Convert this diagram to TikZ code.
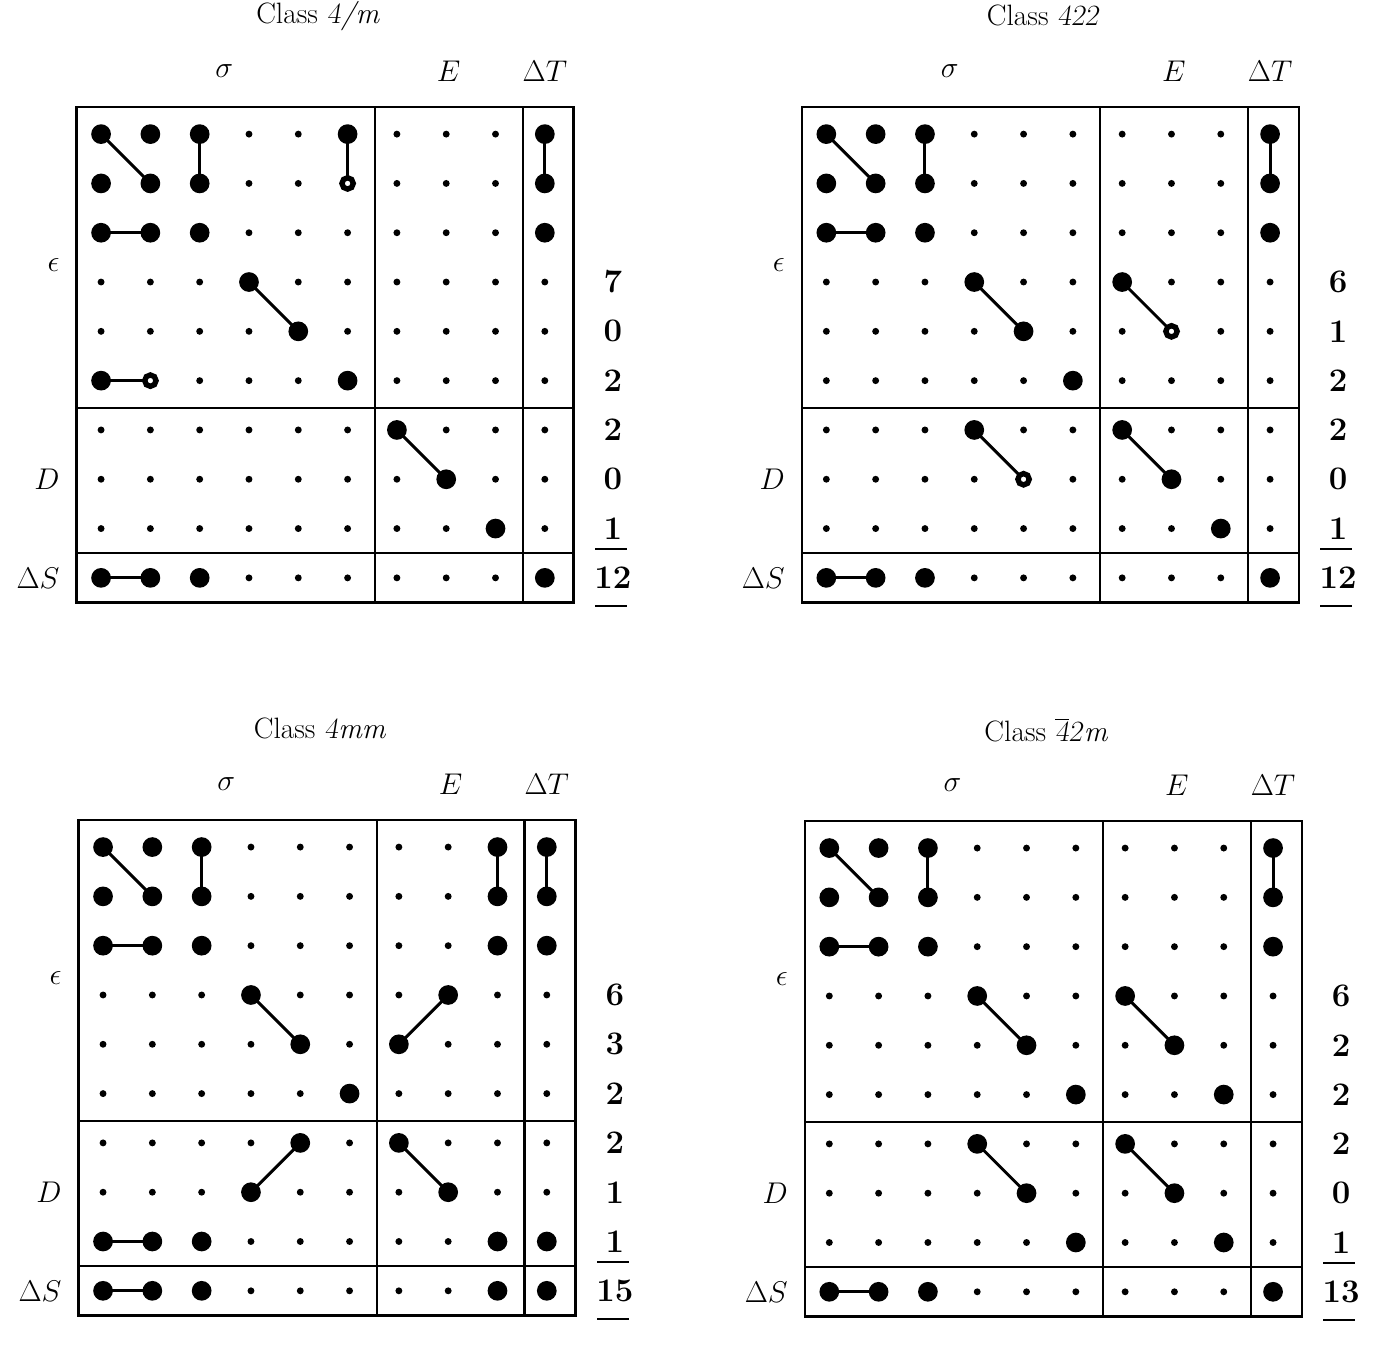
\documentclass[tikz,border=0pt]{standalone}
\tikzset{
  boxline/.style={line width=1.3pt},
  link/.style={line width=1.7pt},
  opendot/.style={draw=black,fill=white,line width=3.1pt},
  axislab/.style={font=\fontsize{18}{21}\selectfont},
  tally/.style={font=\fontsize{19}{22}\selectfont\bfseries},
  classtitle/.style={font=\fontsize{17}{20}\selectfont}
}
% frame, small dots, labels and counts of one class table
\newcommand{\classframe}[4]{%
  \foreach \row in {0,...,9}
    \foreach \col in {0,...,9}
    {
      \coordinate (#1-\row-\col) at (\col,\row);
      \fill (\col,\row) circle [radius=0.07];
    }
  \draw[boxline] (-0.5,-0.55) rectangle (9.58,9.5);
  \draw[boxline] (5.55,-0.55) -- (5.55,9.5) (8.55,-0.55) -- (8.55,9.5);
  \draw[boxline] (-0.5,5.55) -- (9.58,5.55) (-0.5,8.5) -- (9.58,8.5);
  \node[classtitle] (#1-title) at (4.4,-2.4) {Class #2};
  \node[axislab] (#1-sig) at (2.5,-1.27) {$\sigma$};
  \node[axislab] (#1-E) at (7.05,-1.27) {$E$};
  \node[axislab] (#1-T) at (9,-1.27) {$\Delta T$};
  \node[axislab,anchor=east] (#1-eps) at (-0.72,2.65) {$\epsilon$};
  \node[axislab,anchor=east] (#1-D) at (-0.72,7) {$D$};
  \node[axislab,anchor=east] (#1-S) at (-0.72,9) {$\Delta S$};
  \foreach \n [count=\i from 3] in {#3}
    \node[tally] (#1-n\i) at (10.38,\i) {\n};
  \node[tally] (#1-tot) at (10.38,9) {#4};
  \draw[boxline] (10.02,8.42) -- (10.66,8.42) (10.02,9.57) -- (10.66,9.57);
}
\begin{document}
\begin{tikzpicture}[x=1cm,y=-1cm]
  \useasboundingbox (0,0) rectangle (28.05,27.44);
  % Class 4/m
  \begin{scope}[shift={(2.05,2.72)}]
    \classframe{a}{\textsl{4}\textit{/m}}{7,0,2,2,0,1}{12}
    \foreach \p/\q in {0-0/1-1,0-2/1-2,0-5/1-5,0-9/1-9,2-0/2-1,3-3/4-4,5-0/5-1,6-6/7-7,9-0/9-1}
      \draw[link] (a-\p) -- (a-\q);
    \foreach \p in {0-0,0-1,0-2,0-5,0-9,1-0,1-1,1-2,1-9,2-0,2-1,2-2,2-9,3-3,4-4,5-0,5-5,6-6,7-7,8-8,9-0,9-1,9-2,9-9}
      \fill (a-\p) circle [radius=0.2];
    \foreach \p in {1-5,5-1}
      \filldraw[opendot] (a-\p) circle [radius=0.115];
  \end{scope}
  % Class 422
  \begin{scope}[shift={(16.76,2.72)}]
    \classframe{b}{\textsl{422}}{6,1,2,2,0,1}{12}
    \foreach \p/\q in {0-0/1-1,0-2/1-2,0-9/1-9,2-0/2-1,3-3/4-4,3-6/4-7,6-3/7-4,6-6/7-7,9-0/9-1}
      \draw[link] (b-\p) -- (b-\q);
    \foreach \p in {0-0,0-1,0-2,0-9,1-0,1-1,1-2,1-9,2-0,2-1,2-2,2-9,3-3,4-4,3-6,5-5,6-3,6-6,7-7,8-8,9-0,9-1,9-2,9-9}
      \fill (b-\p) circle [radius=0.2];
    \foreach \p in {4-7,7-4}
      \filldraw[opendot] (b-\p) circle [radius=0.115];
  \end{scope}
  % Class 4mm
  \begin{scope}[shift={(2.09,17.18)}]
    \classframe{c}{\textsl{4}\textit{mm}}{6,3,2,2,1,1}{15}
    \foreach \p/\q in {0-0/1-1,0-2/1-2,0-8/1-8,0-9/1-9,2-0/2-1,3-3/4-4,3-7/4-6,6-4/7-3,6-6/7-7,8-0/8-1,9-0/9-1}
      \draw[link] (c-\p) -- (c-\q);
    \foreach \p in {0-0,0-1,0-2,0-8,0-9,1-0,1-1,1-2,1-8,1-9,2-0,2-1,2-2,2-8,2-9,3-3,4-4,3-7,4-6,5-5,6-4,7-3,6-6,7-7,8-0,8-1,8-2,8-8,8-9,9-0,9-1,9-2,9-8,9-9}
      \fill (c-\p) circle [radius=0.2];
  \end{scope}
  % Class -42m
  \begin{scope}[shift={(16.82,17.2)}]
    \classframe{d}{\textsl{$\overline{\mbox{4}}$2}\textit{m}}{6,2,2,2,0,1}{13}
    \foreach \p/\q in {0-0/1-1,0-2/1-2,0-9/1-9,2-0/2-1,3-3/4-4,3-6/4-7,6-3/7-4,6-6/7-7,9-0/9-1}
      \draw[link] (d-\p) -- (d-\q);
    \foreach \p in {0-0,0-1,0-2,0-9,1-0,1-1,1-2,1-9,2-0,2-1,2-2,2-9,3-3,4-4,3-6,4-7,5-5,5-8,6-3,7-4,6-6,7-7,8-5,8-8,9-0,9-1,9-2,9-9}
      \fill (d-\p) circle [radius=0.2];
  \end{scope}
\end{tikzpicture}
\end{document}
